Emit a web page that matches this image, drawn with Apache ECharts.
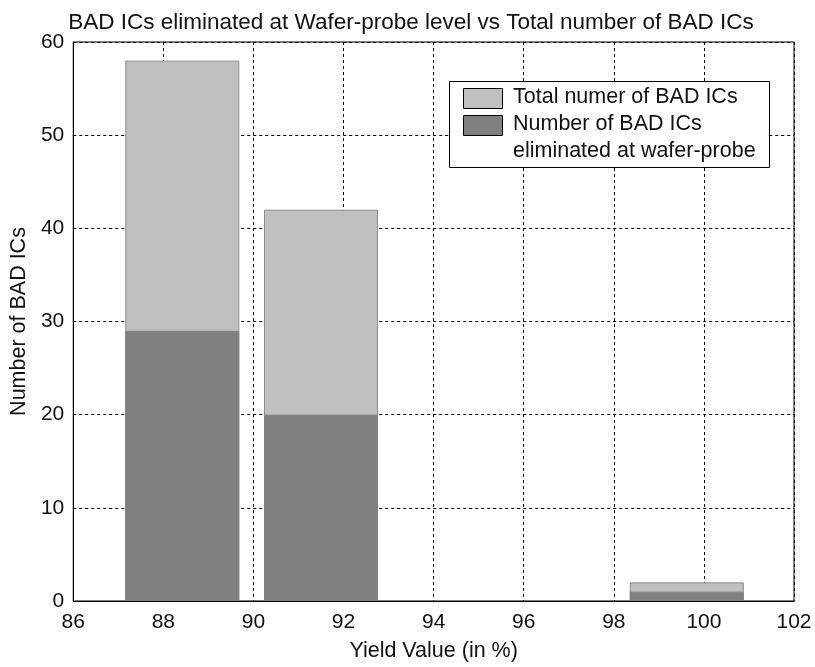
<!DOCTYPE html>
<html>
<head>
<meta charset="utf-8">
<script src="https://cdn.jsdelivr.net/npm/echarts@6/dist/echarts.min.js"></script>
<style>
html,body{margin:0;padding:0;background:#fff;}
#chart{width:815px;height:667px;}
</style>
</head>
<body>
<div id="chart"></div>
<script>
const yieldValues = [88.42, 91.5, 99.62];
const totalBad = [58, 42, 2];
const eliminatedBad = [29, 20, 1];
const legendNames = ["Total numer of BAD ICs", "Number of BAD ICs\neliminated at wafer-probe"];
const titleText = "BAD ICs eliminated at Wafer-probe level vs Total number of BAD ICs";
const xAxisName = "Yield Value (in %)";
const yAxisName = "Number of BAD ICs";

const font = "'Liberation Sans', Arial, sans-serif";
const chart = echarts.init(document.getElementById('chart'));
const L = 73, T = 42, R = 794, B = 603;

chart.setOption({
  animation: false,
  backgroundColor: '#fff',
  title: {
    text: titleText, left: 406, top: 6, textAlign: 'center',
    textStyle: {fontFamily: font, fontSize: 22.5, fontWeight: 'normal', color: '#111'}
  },
  grid: {left: L, top: T, right: 815 - R, bottom: 667 - B, show: true, borderColor: '#000', borderWidth: 1, backgroundColor: 'transparent'},
  xAxis: {
    type: 'value', min: 86, max: 102, interval: 2,
    name: xAxisName, nameLocation: 'middle', nameGap: 39,
    nameTextStyle: {fontFamily: font, fontSize: 21.5, color: '#111'},
    axisLine: {show: true, lineStyle: {color: '#000'}},
    axisTick: {show: false},
    axisLabel: {fontFamily: font, fontSize: 21, color: '#111', margin: 11},
    splitLine: {show: true, lineStyle: {color: '#000', type: [3, 3], width: 1}}
  },
  yAxis: {
    type: 'value', min: 0, max: 60, interval: 10,
    name: yAxisName, nameLocation: 'middle', nameGap: 40,
    nameTextStyle: {fontFamily: font, fontSize: 21.5, color: '#111'},
    axisLine: {show: true, lineStyle: {color: '#000'}},
    axisTick: {show: false},
    axisLabel: {fontFamily: font, fontSize: 21, color: '#111', margin: 9},
    splitLine: {show: true, lineStyle: {color: '#000', type: [3, 3], width: 1}}
  },
  series: [
    {
      name: legendNames[0], type: 'bar', barWidth: 114, barGap: '-100%',
      data: yieldValues.map((x, i) => [x, totalBad[i]]),
      itemStyle: {color: '#c0c0c0', borderColor: '#8c8c8c', borderWidth: 1}
    },
    {
      name: legendNames[1], type: 'bar', barWidth: 114, barGap: '-100%',
      data: yieldValues.map((x, i) => [x, eliminatedBad[i]]),
      itemStyle: {color: '#808080', borderColor: '#808080', borderWidth: 1}
    }
  ],
  graphic: [
    {type: 'rect', shape: {x: 449.5, y: 81.5, width: 320, height: 86}, style: {fill: '#fff', stroke: '#000', lineWidth: 1}, z: 100},
    {type: 'rect', shape: {x: 463.5, y: 88.5, width: 39, height: 20}, style: {fill: '#c0c0c0', stroke: '#000', lineWidth: 1}, z: 101},
    {type: 'rect', shape: {x: 463.5, y: 115.5, width: 39, height: 20}, style: {fill: '#808080', stroke: '#000', lineWidth: 1}, z: 101},
    {type: 'text', x: 513, y: 84, style: {text: legendNames[0], font: '21.5px ' + font, fill: '#111', lineHeight: 27}, z: 101},
    {type: 'text', x: 513, y: 111, style: {text: legendNames[1], font: '21.5px ' + font, fill: '#111', lineHeight: 27}, z: 101}
  ]
});
</script>
</body>
</html>
